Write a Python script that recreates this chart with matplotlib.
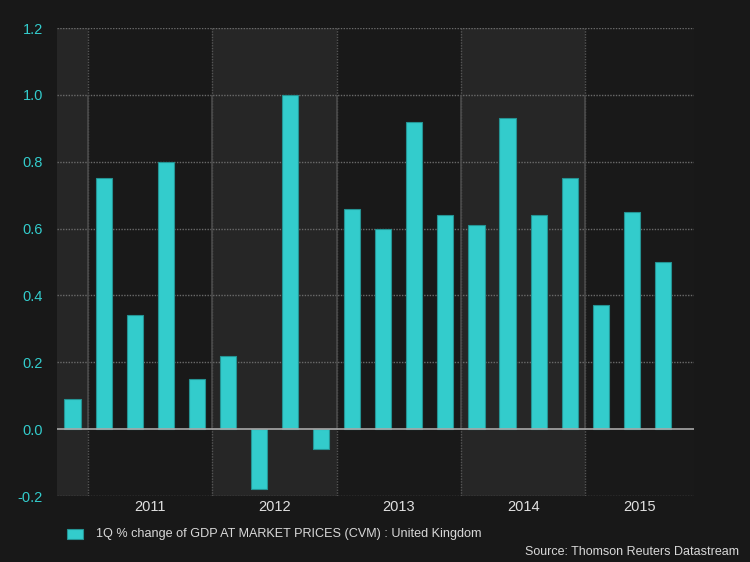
import matplotlib.pyplot as plt

# quarterly % change, Q4 2010 .. Q3 2015
quarters = ["2010Q4",
            "2011Q1", "2011Q2", "2011Q3", "2011Q4",
            "2012Q1", "2012Q2", "2012Q3", "2012Q4",
            "2013Q1", "2013Q2", "2013Q3", "2013Q4",
            "2014Q1", "2014Q2", "2014Q3", "2014Q4",
            "2015Q1", "2015Q2", "2015Q3"]
gdp_change = [0.09,
              0.75, 0.34, 0.80, 0.15,
              0.22, -0.18, 1.00, -0.06,
              0.66, 0.60, 0.92, 0.64,
              0.61, 0.93, 0.64, 0.75,
              0.37, 0.65, 0.50]
years = ["2011", "2012", "2013", "2014", "2015"]
y_ticks = [-0.2, 0.0, 0.2, 0.4, 0.6, 0.8, 1.0, 1.2]

BG = "#181818"
BAND_DARK = "#191919"
BAND_LIGHT = "#262626"
TEAL = "#33cccc"

plt.rcParams["font.family"] = ["Liberation Sans", "DejaVu Sans"]

fig = plt.figure(figsize=(7.5, 5.62), dpi=100, facecolor=BG)
ax = fig.add_axes([57 / 750, 1 - 496 / 562, (694 - 57) / 750, (496 - 28) / 562])
ax.set_facecolor(BAND_DARK)

x = list(range(len(quarters)))
x_min, x_max = -0.5, 20.0
ax.set_xlim(x_min, x_max)
ax.set_ylim(-0.2, 1.2)

# alternating year bands
bounds = [x_min] + [0.5 + 4 * k for k in range(len(years))] + [x_max]
for i in range(len(bounds) - 1):
    if i % 2 == 0:
        ax.axvspan(bounds[i], bounds[i + 1], color=BAND_LIGHT, zorder=0, lw=0)

# gridlines
for yv in y_ticks:
    if yv == 0.0:
        continue
    ax.axhline(yv, color="#6a6a6a", lw=1.0, ls=(0, (1, 1)), zorder=1)
for b in bounds[1:-1]:
    ax.axvline(b, color="#555555", lw=1.0, ls=(0, (1, 1)), zorder=1)
    ax.vlines(b, 0.0, 1.0, color="#4a4a4a", lw=1.2, zorder=1)

ax.bar(x, gdp_change, width=0.52, color=TEAL, edgecolor="#249393",
       linewidth=0.8, zorder=3)
ax.axhline(0.0, color="#a8a8a8", lw=1.2, zorder=4)

for s in ax.spines.values():
    s.set_visible(False)

ax.set_yticks(y_ticks)
ax.set_yticklabels([f"{v:.1f}" for v in y_ticks], color=TEAL, fontsize=10.5)
centers = [(bounds[i + 1] + bounds[i + 2]) / 2 for i in range(len(years))]
ax.set_xticks(centers)
ax.set_xticklabels(years, color="#e0e0e0", fontsize=10.5)
ax.tick_params(axis="both", length=0)
ax.tick_params(axis="y", pad=10)
ax.tick_params(axis="x", pad=3)

# legend
fig.patches.append(plt.Rectangle((67 / 750, 1 - 539 / 562), 16 / 750, 10 / 562,
                                 transform=fig.transFigure, facecolor=TEAL,
                                 edgecolor="#249393", lw=0.8))
fig.text(96 / 750, 1 - 534 / 562,
         "1Q % change of GDP AT MARKET PRICES (CVM) : United Kingdom",
         color="#d8d8d8", fontsize=9.05, va="center", ha="left")
fig.text(739 / 750, 1 - 552 / 562, "Source: Thomson Reuters Datastream",
         color="#d8d8d8", fontsize=9.0, va="center", ha="right")

fig.savefig("out.png", dpi=100, facecolor=BG)
